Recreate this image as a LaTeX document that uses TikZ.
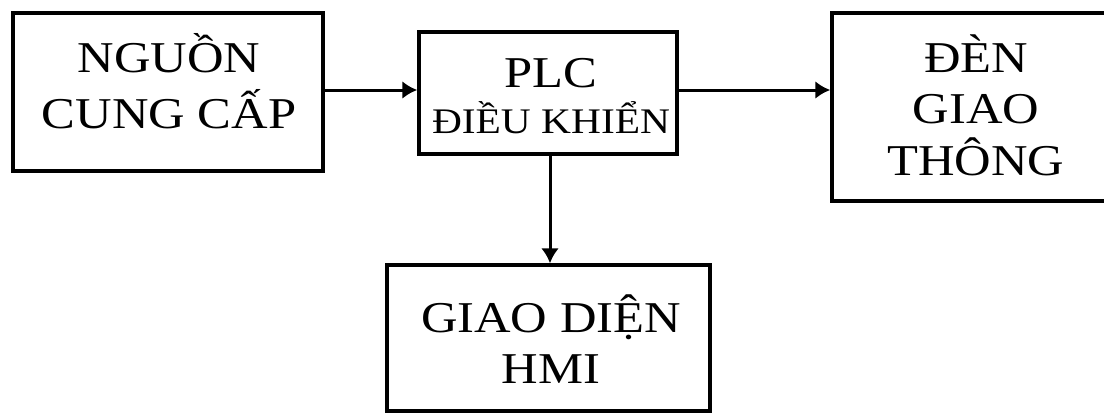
\documentclass[tikz,border=0pt]{standalone}
\usepackage{fontspec}
\setmainfont{Liberation Serif}[FakeStretch=1.15]
\usetikzlibrary{arrows.meta}
\begin{document}
\begin{tikzpicture}[x=1pt,y=-1pt,
  blk/.style={draw=black,line width=3.5pt,minimum width=#1,inner sep=0pt},
  txt/.style={align=center,anchor=base,inner sep=0pt,font=\fontsize{44}{#1}\selectfont},
  conn/.style={line width=3pt,-{Latex[length=15pt,width=18pt]}}]
\useasboundingbox (0,0) rectangle (1104,413);
% boxes
\node[blk=310pt,minimum height=158pt] (src) at (168,92) {};
\node[blk=258pt,minimum height=122pt] (plc) at (548,93) {};
\node[blk=288pt,minimum height=188pt] (den) at (976,107) {};
\node[blk=323pt,minimum height=146pt] (hmi) at (548.5,338) {};
% texts
\node[txt=56pt] (srcT) at (169,128) {NGUỒN\\CUNG CẤP};
\node[txt=46pt] (plcT) at (551,133) {PLC\\{\fontsize{36}{46}\selectfont ĐIỀU KHIỂN}};
\node[txt=51.5pt] (denT) at (976,175) {ĐÈN\\GIAO\\THÔNG};
\node[txt=51pt] (hmiT) at (551,383) {GIAO DIỆN\\HMI};
% connectors
\draw[conn] (src.east |- 0,90) -- (plc.west |- 0,90);
\draw[conn] (plc.east |- 0,90) -- (den.west |- 0,90);
\draw[conn] (plc.south -| 550,0) -- (hmi.north -| 550,0);
\end{tikzpicture}
\end{document}
